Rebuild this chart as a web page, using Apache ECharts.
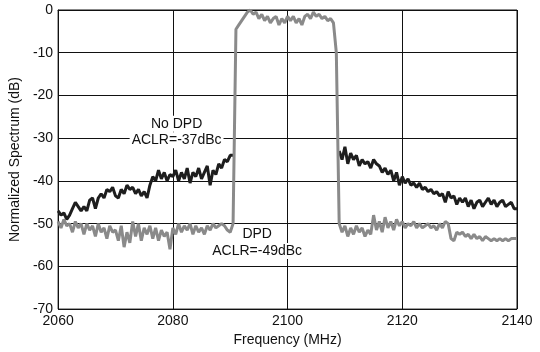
<!DOCTYPE html>
<html><head><meta charset="utf-8">
<script src="https://cdn.jsdelivr.net/npm/echarts@6/dist/echarts.min.js"></script>
<style>html,body{margin:0;padding:0;background:#fff}#c{width:540px;height:352px}</style>
</head><body><div id="c"></div>
<script>
// Frequency sampling grid (MHz), 0.5 MHz steps from 2060 to 2140
const freqStart = 2060, freqStep = 0.5, freqCount = 161;
const freqMHz = Array.from({length: freqCount}, (_, i) => freqStart + freqStep * i);

// No DPD (black) – out-of-band only (null where hidden by in-band trace)
const noDpdLeft = [ // 2060 .. 2090.5
  -47,-48,-47.5,-49,-48,-46.5,-45,-46,-47,-46,-47,-44.5,-44,-46.5,-44,-43,-44,-42,-42.5,-41.5,
  -43.5,-44,-42,-43,-41,-42,-41.5,-43,-42,-43.5,-42.5,-44,-41,-39,-40,-37.5,-39.5,-38,-40,-38.5,
  -39,-37.5,-40,-38,-39.5,-37,-40.5,-38,-39,-37,-39.5,-38,-36.5,-41,-37.5,-38.5,-36,-37,-35,-35.5,
  -34,-34];
const noDpdRight = [ // 2109 .. 2140
  -33,-35,-32,-36,-33.5,-35,-34,-36.5,-35,-36,-35.5,-37,-35,-36,-36.5,-38,-37,-38.5,-37.5,-40,
  -38,-41,-39,-40.5,-39.5,-41,-40.5,-41.5,-40.5,-42,-41.5,-42.5,-42,-43,-42.5,-43.5,-43,-45,-42.5,-44,
  -43.5,-45.5,-44,-45,-44,-46,-44.5,-46.5,-45,-44.5,-46,-45,-44,-45.5,-44.5,-46,-45,-44.5,-46,-45.5,
  -45,-46.5,-46.5];
// DPD (gray) – full span
const dpdLeft = [ // 2060 .. 2090.5
  -49.5,-51,-49,-50.5,-50,-52,-49.5,-51,-50,-52.5,-50,-51.5,-50.5,-53,-50,-52,-51,-53.5,-50.5,-52,
  -51.5,-54,-50.5,-55.5,-52,-54.5,-49.5,-53,-50,-54,-51,-52.5,-50.5,-53.5,-51,-54,-51.5,-53,-52,-56,
  -51,-52.5,-50,-52,-50.5,-51.5,-50,-52.5,-50.5,-52,-51,-52.5,-50.5,-51.5,-50,-51,-50.5,-50,-50.5,-51.5,
  -52,-50];
const inBand = [ // 2091 .. 2108.5
  -4.5,-3.5,-2.5,-1.5,-0.5,0,-1,-0.5,-2,-1,-2.5,-1.5,-3,-2,-1.5,-3.5,-2,-3,-1.5,-2.5,
  -1.5,-3,-2,-3.5,-1.5,-1,-2,-0.5,-1.5,-1,-2,-1.5,-2.5,-2,-3,-10];
const dpdRight = [ // 2109 .. 2140
  -50,-52,-50.5,-53,-51,-52.5,-50.5,-52,-51,-53,-51.5,-52.5,-48,-51.5,-49.5,-52,-48.5,-51,-49.5,-51.5,
  -49,-50.5,-49.5,-51,-50,-50.5,-49.5,-51,-50,-51,-50.5,-50,-51,-50.5,-51.5,-50,-51,-49.5,-50,-53.5,
  -54,-52,-52.5,-52,-53,-52.5,-53.5,-52.5,-53.5,-53,-54,-53,-53.5,-54,-53.5,-54,-53.5,-54,-53.5,-54,
  -53.5,-53.5,-53.5];

const noDpdDb = noDpdLeft.concat(inBand.map(() => null), noDpdRight);
const dpdDb = dpdLeft.concat(inBand, dpdRight);

const xTicks = {min: 2060, max: 2140, interval: 20};
const yTicks = {min: -70, max: 0, interval: 10};

// Annotation anchors in data coordinates
const notes = [
  {f: 2080.65, db: -26.6, text: 'No DPD'},
  {f: 2080.65, db: -30.5, text: 'ACLR=-37dBc'},
  {f: 2094.7, db: -52.4, text: 'DPD'},
  {f: 2094.7, db: -56.4, text: 'ACLR=-49dBc'}
];

const pair = arr => arr.map((v, i) => [freqMHz[i], v]);
const font = 'Liberation Sans, Arial, sans-serif';
const chart = echarts.init(document.getElementById('c'), null, {renderer: 'canvas'});
chart.setOption({
  animation: false,
  backgroundColor: '#fff',
  grid: {left: 56, right: 23, top: 10, bottom: 39, show: true, borderColor: '#111', borderWidth: 1},
  xAxis: {
    type: 'value', min: xTicks.min, max: xTicks.max, interval: xTicks.interval,
    name: 'Frequency (MHz)', nameLocation: 'middle', nameGap: 23,
    nameTextStyle: {fontFamily: font, fontSize: 14, color: '#111'},
    axisLine: {show: true, lineStyle: {color: '#111', width: 1}},
    axisTick: {show: false},
    axisLabel: {fontFamily: font, fontSize: 14, color: '#111', margin: 5, formatter: v => String(v)},
    splitLine: {show: true, lineStyle: {color: '#111', width: 1}}
  },
  yAxis: {
    type: 'value', min: yTicks.min, max: yTicks.max, interval: yTicks.interval,
    name: 'Normalized Spectrum (dB)', nameLocation: 'middle', nameGap: 28,
    nameTextStyle: {fontFamily: font, fontSize: 14, color: '#111'},
    axisLine: {show: true, lineStyle: {color: '#111', width: 1}},
    axisTick: {show: false},
    axisLabel: {fontFamily: font, fontSize: 14, color: '#111', margin: 5, formatter: v => String(v)},
    splitLine: {show: true, lineStyle: {color: '#111', width: 1}}
  },
  series: [
    {name: 'No DPD', type: 'line', data: pair(noDpdDb), showSymbol: false, connectNulls: false,
     lineStyle: {color: '#1e1e1e', width: 3}, z: 2},
    {name: 'DPD', type: 'line', data: pair(dpdDb), showSymbol: false,
     lineStyle: {color: '#8a8a8a', width: 3}, z: 3}
  ]
});

chart.setOption({
  graphic: notes.map(n => {
    const p = chart.convertToPixel({gridIndex: 0}, [n.f, n.db]);
    return {
      type: 'text', x: p[0], y: p[1], z: 10,
      style: {text: n.text, fontFamily: font, fontSize: 14, fill: '#111',
        align: 'center', verticalAlign: 'middle', backgroundColor: '#fff', padding: [1, 2]}
    };
  })
});
</script></body></html>
